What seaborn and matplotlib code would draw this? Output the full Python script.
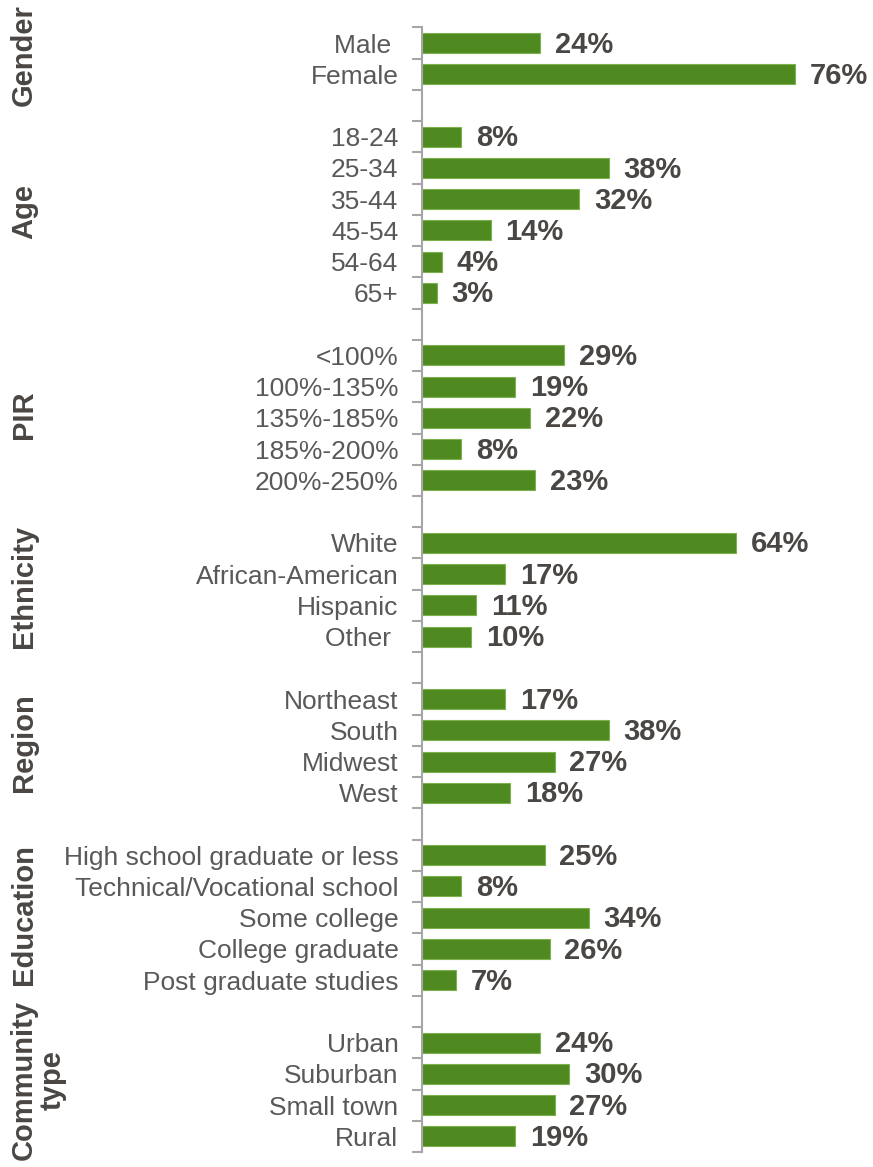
import numpy as np
import pandas as pd
import matplotlib
matplotlib.use("Agg")
import matplotlib.pyplot as plt
import seaborn as sns

# Respondent profile, percent of respondents within each group
groups = ["Gender", "Age", "PIR", "Ethnicity", "Region", "Education", "Community\ntype"]

gender_labels = ["Male ", "Female"]
gender_values = [24, 76]

age_labels = ["18-24", "25-34", "35-44", "45-54", "54-64", "65+"]
age_values = [8, 38, 32, 14, 4, 3]

pir_labels = ["<100%", "100%-135%", "135%-185%", "185%-200%", "200%-250%"]
pir_values = [29, 19, 22, 8, 23]

ethnicity_labels = ["White", "African-American", "Hispanic", "Other "]
ethnicity_values = [64, 17, 11, 10]

region_labels = ["Northeast", "South", "Midwest", "West"]
region_values = [17, 38, 27, 18]

education_labels = ["High school graduate or less", "Technical/Vocational school",
                    "Some college", "College graduate", "Post graduate studies"]
education_values = [25, 8, 34, 26, 7]

community_labels = ["Urban", "Suburban", "Small town", "Rural"]
community_values = [24, 30, 27, 19]

sections = [
    (gender_labels, gender_values),
    (age_labels, age_values),
    (pir_labels, pir_values),
    (ethnicity_labels, ethnicity_values),
    (region_labels, region_values),
    (education_labels, education_values),
    (community_labels, community_values),
]

# Build the long table and the category order with empty spacer slots
rows = []
order = []
group_spans = []
for i, (labels, values) in enumerate(sections):
    start = len(order)
    for lab, val in zip(labels, values):
        rows.append({"category": lab, "pct": val, "group": groups[i]})
        order.append(lab)
    group_spans.append((start, len(order) - 1))
    if i < len(sections) - 1:
        order.append(" " * (i + 1) + "\u200b")
df = pd.DataFrame(rows)

GREEN = "#4E8A1F"
TEXT = "#595959"
VALUE_TEXT = "#4A4644"
AXIS = "#A6A6A6"

sns.set_style("white")
plt.rcParams["font.family"] = ["Liberation Sans", "DejaVu Sans"]

fig = plt.figure(figsize=(8.73, 11.67), dpi=100)
W, H = 873, 1167
ax_left, ax_top, ax_bottom = 422, 27.4, 1152.0
ax = fig.add_axes([ax_left / W, 1 - ax_bottom / H, 1 - ax_left / W, (ax_bottom - ax_top) / H])

sns.barplot(data=df, x="pct", y="category", order=order, orient="h",
            color=GREEN, saturation=1, width=0.64, ax=ax,
            edgecolor="#7FB04F", linewidth=0.8)

px_per_unit = 4.91
ax.set_xlim(0, (W - ax_left) / px_per_unit)
ax.set_ylim(len(order) - 0.5, -0.5)

for _, r in df.iterrows():
    y = order.index(r["category"])
    ax.text(r["pct"] + 3.0, y + 0.05, f"{r['pct']}%", va="center", ha="left",
            fontsize=21, fontweight="bold", color=VALUE_TEXT)

# Axis styling: single left spine with boundary ticks between slots
for side in ["top", "right", "bottom"]:
    ax.spines[side].set_visible(False)
ax.spines["left"].set_color(AXIS)
ax.spines["left"].set_linewidth(1.5)
ax.set_xticks([])
ax.set_xlabel("")
ax.set_ylabel("")
ax.tick_params(axis="y", which="major", left=False, length=0, pad=17,
               labelsize=19, labelcolor=TEXT)
ax.set_yticks(np.arange(-0.5, len(order)), minor=True)
ax.tick_params(axis="y", which="minor", left=True, length=7, width=1.5, color=AXIS)

# Group titles on the far left
for name, (a, b) in zip(groups, group_spans):
    yc = (a + b) / 2
    xpix = 38 if "\n" in name else 24
    if "\n" in name:
        yc -= 0.2
    ax.text(-(ax_left - xpix) / px_per_unit, yc - 0.1, name, rotation=90,
            ha="center", va="center", fontsize=21, fontweight="bold",
            color=VALUE_TEXT, linespacing=1.05, clip_on=False)

fig.savefig("out.png", dpi=100)
